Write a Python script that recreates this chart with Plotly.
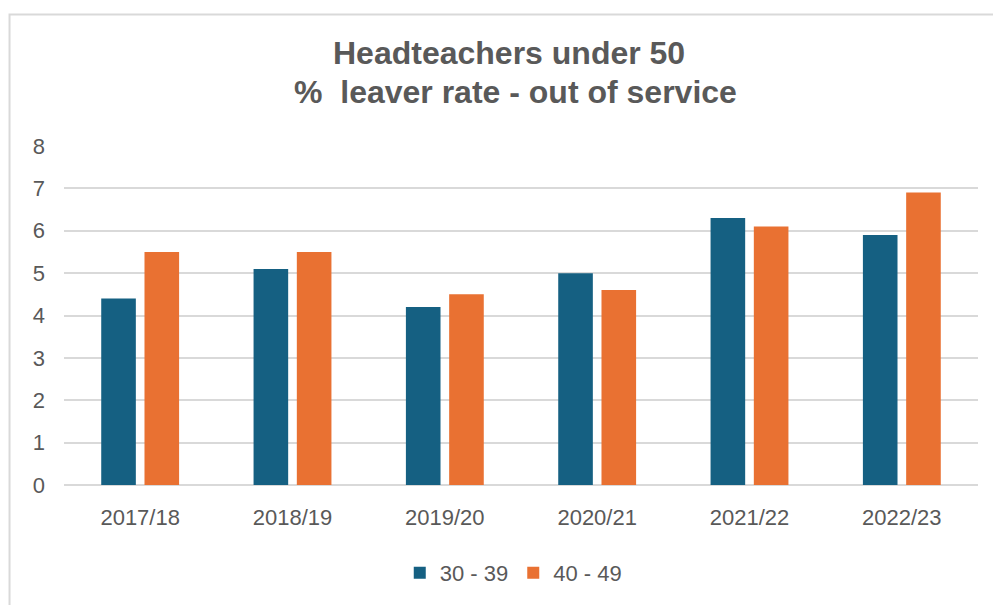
import plotly.graph_objects as go

years = ["2017/18", "2018/19", "2019/20", "2020/21", "2021/22", "2022/23"]
age_30_39 = [4.4, 5.1, 4.2, 5.0, 6.3, 5.9]
age_40_49 = [5.5, 5.5, 4.5, 4.6, 6.1, 6.9]
y_ticks = [0, 1, 2, 3, 4, 5, 6, 7, 8]

W, H = 993, 605
L, R, T, B = 63.5, 15, 146, 119
pw, ph = W - L - R, H - T - B

def px_x(x):
    return (x - L) / pw

def px_y(y):
    return (H - B - y) / ph

grey = "#595959"
font_family = "Liberation Sans, Arial, sans-serif"

fig = go.Figure()
fig.add_trace(go.Bar(x=years, y=age_30_39, name="30 - 39", marker_color="#156082",
                     marker_line_width=0))
fig.add_trace(go.Bar(x=years, y=age_40_49, name="40 - 49", marker_color="#E97132",
                     marker_line_width=0))

fig.update_layout(
    width=W, height=H,
    margin=dict(l=L, r=R, t=T, b=B),
    paper_bgcolor="white", plot_bgcolor="white",
    barmode="group", bargap=0.432, bargroupgap=0.2,
    font=dict(family=font_family, color=grey, size=22),
    showlegend=True,
    legend=dict(orientation="h", x=px_x(513), y=px_y(573), xanchor="center", yanchor="middle",
                font=dict(size=22, color=grey), itemwidth=30, traceorder="normal"),
    xaxis=dict(showgrid=False, showline=False, ticks="", tickfont=dict(size=22, color=grey),
               ticklabelstandoff=17),
    yaxis=dict(range=[0, 8], tickvals=y_ticks, showgrid=True, gridcolor="#d9d9d9", gridwidth=2,
               zeroline=True, zerolinecolor="#d9d9d9", zerolinewidth=2, showline=False, ticks="",
               tickfont=dict(size=22, color=grey), ticklabelstandoff=18),
    annotations=[
        dict(text="<b>Headteachers under 50</b>", xref="paper", yref="paper",
             x=px_x(509), y=px_y(53), xanchor="center", yanchor="middle", showarrow=False,
             font=dict(size=32, color=grey, family=font_family)),
        dict(text="<b>%\u00a0 leaver rate - out of service</b>", xref="paper", yref="paper",
             x=px_x(515), y=px_y(92), xanchor="center", yanchor="middle", showarrow=False,
             font=dict(size=32, color=grey, family=font_family)),
    ],
    shapes=[
        dict(type="rect", xref="paper", yref="paper", x0=px_x(9), x1=px_x(1020),
             y0=px_y(640), y1=px_y(14), line=dict(color="#d9d9d9", width=2),
             fillcolor="rgba(0,0,0,0)", layer="below"),
    ],
)

fig.write_html("out.html")
